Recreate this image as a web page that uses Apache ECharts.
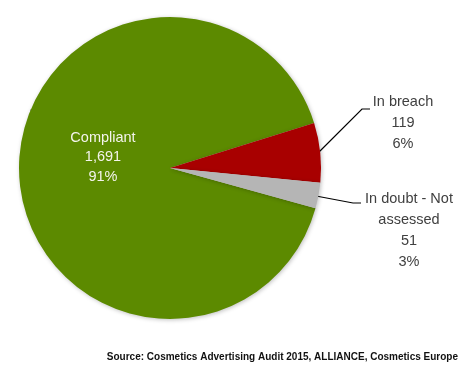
<!DOCTYPE html>
<html><head><meta charset="utf-8">
<script src="https://cdn.jsdelivr.net/npm/echarts@6/dist/echarts.min.js"></script>
<style>html,body{margin:0;padding:0;background:#fff}#c{width:470px;height:370px}</style>
</head><body><div id="c"></div>
<script>
const categories = ['Compliant', 'In breach', 'In doubt - Not\nassessed'];
const values = [1691, 119, 51];
const percents = ['91%', '6%', '3%'];
const colors = ['#5c8a00', '#a80000', '#b5b5b5'];
const sourceText = 'Source: Cosmetics Advertising Audit 2015, ALLIANCE, Cosmetics Europe';

const fmt = n => n.toLocaleString('en-US');
const data = categories.map((c, i) => ({
  name: c, value: values[i], itemStyle: { color: colors[i] },
  label: {
    formatter: c + '\n' + fmt(values[i]) + '\n' + percents[i],
    color: i === 0 ? '#f4f4ec' : '#404040',
    lineHeight: i === 0 ? 19.5 : 21,
    position: i === 0 ? 'inside' : 'outside'
  }
}));

const chart = echarts.init(document.getElementById('c'));
chart.setOption({
  animation: false,
  title: {
    text: sourceText, right: 7, top: 347,
    textStyle: { fontSize: 10, fontWeight: 'bold', color: '#111', fontFamily: 'Liberation Sans' }
  },
  series: [{
    type: 'pie',
    center: [170, 168],
    radius: 151,
    startAngle: -15.5,
    clockwise: true,
    data: data,
    itemStyle: { shadowBlur: 4, shadowColor: 'rgba(0,0,0,0.25)', shadowOffsetX: 1, shadowOffsetY: 1 },
    label: {
      fontFamily: 'Liberation Sans', fontSize: 14.5, lineHeight: 21, align: 'center'
    },
    labelLine: { show: true, lineStyle: { color: '#000', width: 1.2 }, length: 40, length2: 8 },
    labelLayout: function (p) {
      if (p.dataIndex === 0) return { x: 103, y: 157, align: 'center', verticalAlign: 'middle' };
      if (p.dataIndex === 1) return { x: 403, y: 123, align: 'center', verticalAlign: 'middle',
        labelLinePoints: [[318, 153], [362, 109], [370, 109]] };
      return { x: 409, y: 230, align: 'center', verticalAlign: 'middle',
        labelLinePoints: [[316, 196], [353, 203], [361, 203]] };
    }
  }]
});
</script></body></html>
